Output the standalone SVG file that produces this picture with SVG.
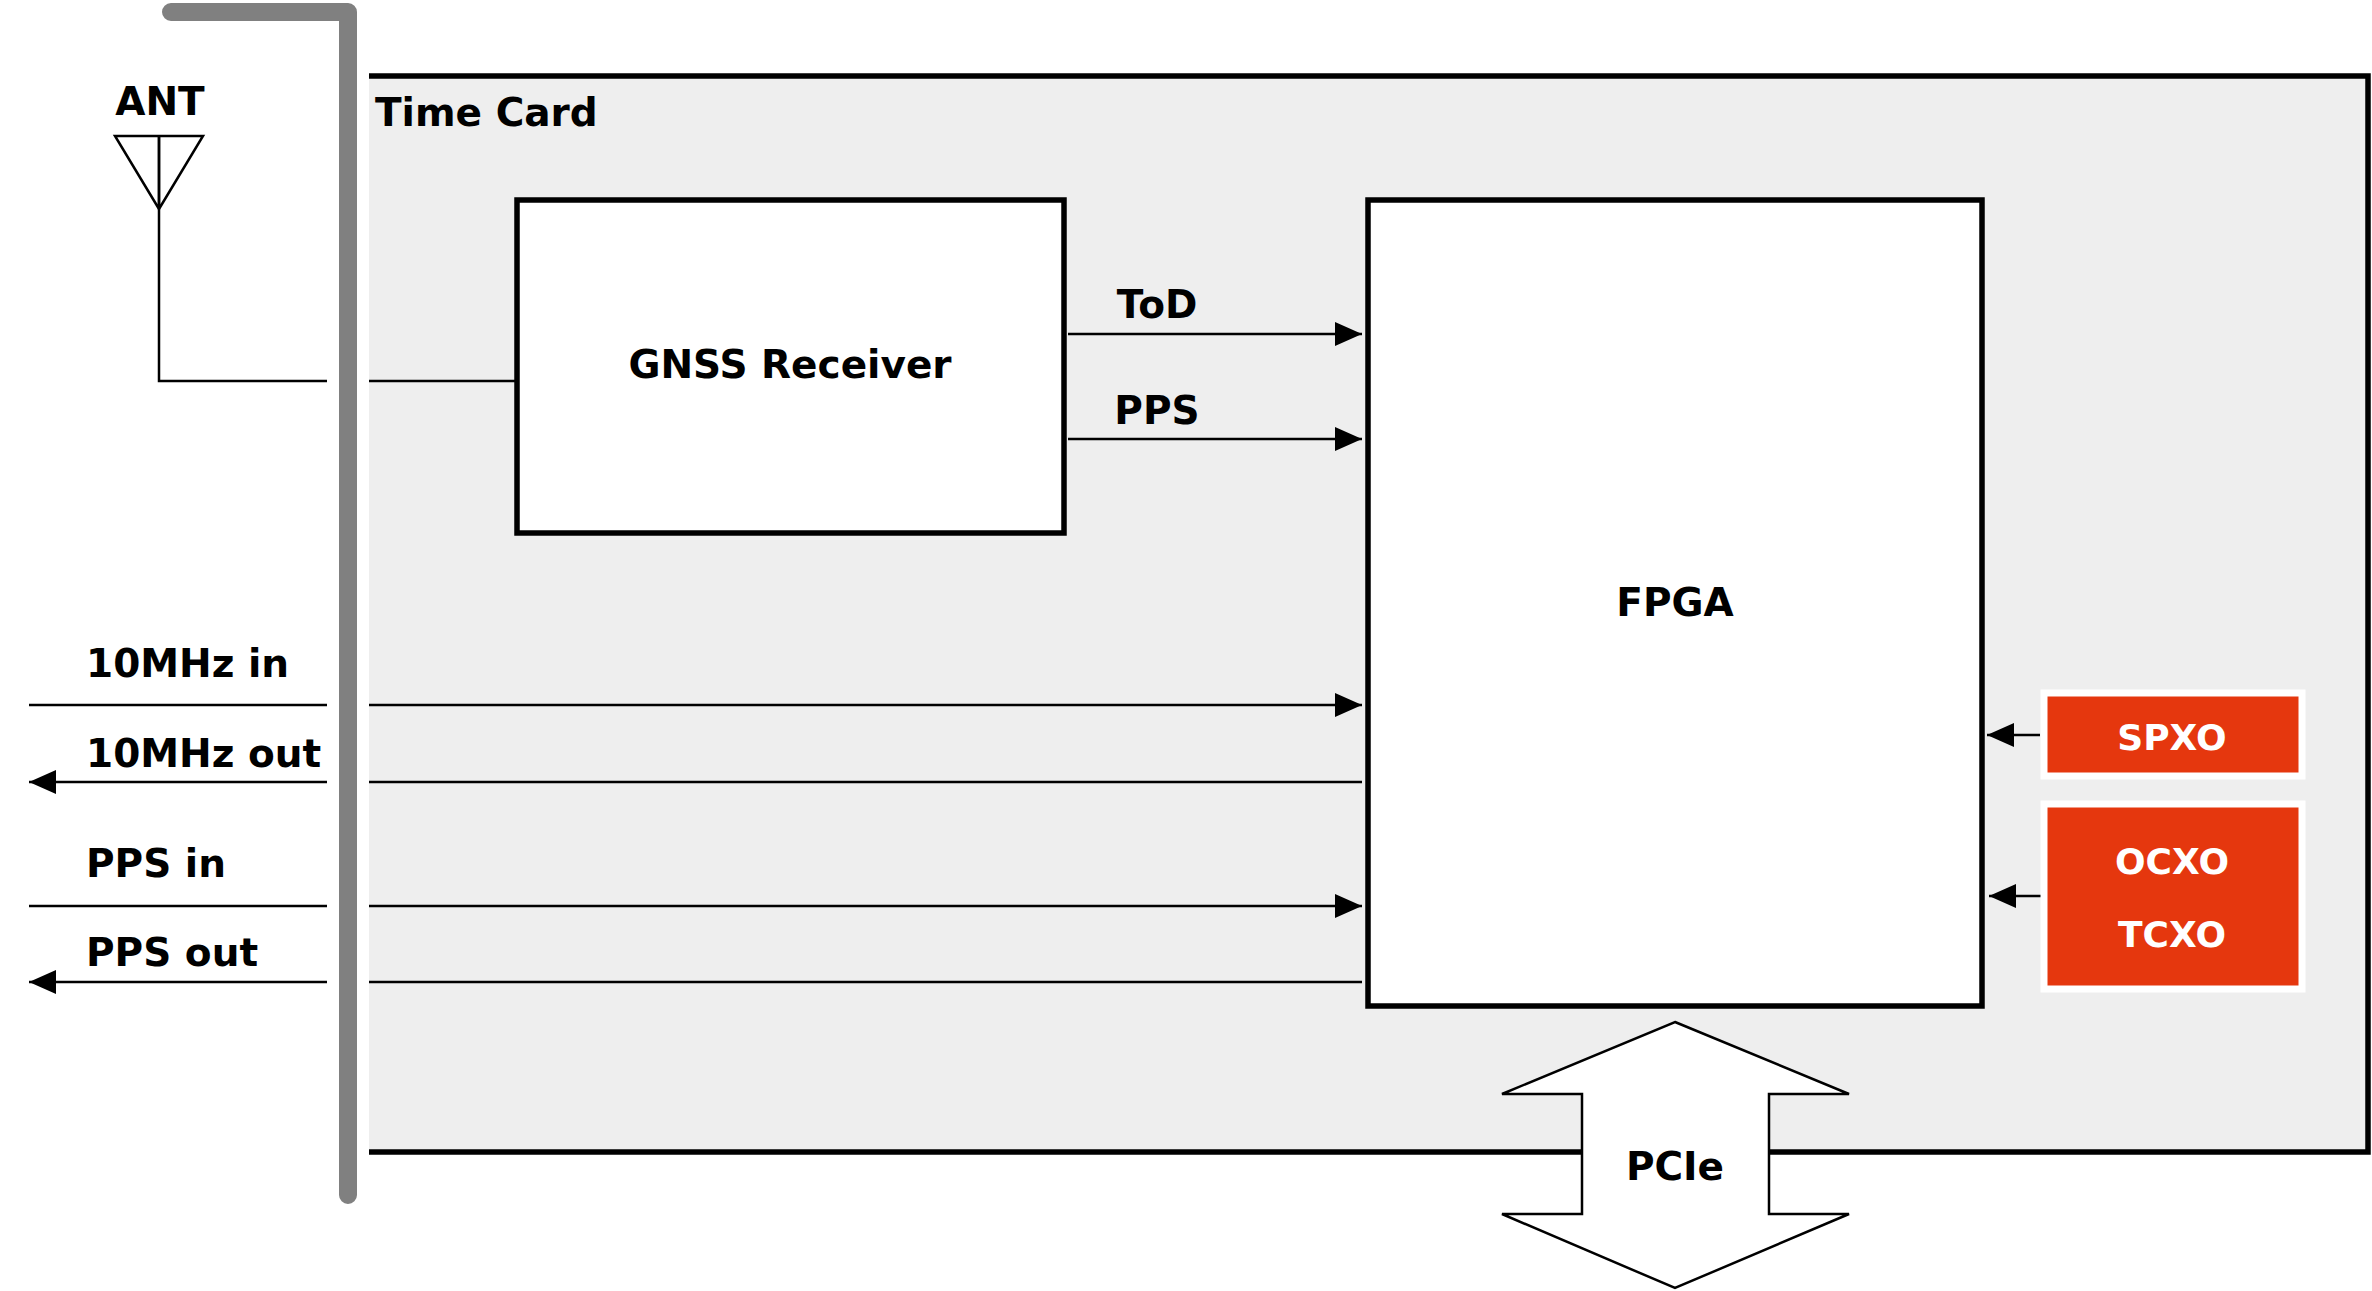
<svg xmlns="http://www.w3.org/2000/svg" width="2372" height="1291" viewBox="0 0 2372 1291">
<defs>
<style>
text{font-family:"DejaVu Sans","Liberation Sans",sans-serif;font-weight:bold;font-size:39px;fill:#000}
.c{text-anchor:middle}
.w{fill:#fff;font-size:36px}
.ln{stroke:#000;stroke-width:2.5;fill:none}
.box{fill:#fff;stroke:#000;stroke-width:5.5}
.osc{fill:#e5370e;stroke:#fff;stroke-width:7}
</style>
<marker id="ah" viewBox="0 0 10 10" refX="10" refY="5" markerWidth="10" markerHeight="10" markerUnits="userSpaceOnUse" orient="auto"><path d="M0,0L10,5L0,10z" fill="#000"/></marker>
<marker id="a" viewBox="0 0 10 10" refX="10" refY="5" markerWidth="27" markerHeight="24" markerUnits="userSpaceOnUse" orient="auto" preserveAspectRatio="none"><path d="M0,0L10,5L0,10z" fill="#000"/></marker>
</defs>
<g id="timecard"><rect x="348" y="76" width="2020" height="1076" fill="#eeeeee" stroke="#000" stroke-width="5.5"/><text x="375" y="126">Time Card</text></g>
<g id="connectors">
<path class="ln" d="M159,136V381H517"/>
<path class="ln" d="M1068,334H1362" marker-end="url(#a)"/>
<path class="ln" d="M1068,439H1362" marker-end="url(#a)"/>
<path class="ln" d="M29,705H1362" marker-end="url(#a)"/>
<path class="ln" d="M1362,782H29" marker-end="url(#a)"/>
<path class="ln" d="M29,906H1362" marker-end="url(#a)"/>
<path class="ln" d="M1362,982H29" marker-end="url(#a)"/>
<path class="ln" d="M2040,735H1987" marker-end="url(#a)"/>
<path class="ln" d="M2047,896H1989" marker-end="url(#a)"/>
</g>
<g id="bus"><path d="M171,12H348V1195" fill="none" stroke="#fff" stroke-width="42" stroke-linejoin="round"/><path d="M171,12H348V1195" fill="none" stroke="#808080" stroke-width="18" stroke-linecap="round" stroke-linejoin="round"/></g>
<g id="ant"><path class="ln" d="M115,136H203L159,209ZM159,136V209"/><text class="c" x="160" y="115">ANT</text></g>
<g id="gnss"><rect class="box" x="517" y="200" width="547" height="333"/><text class="c" x="790" y="378">GNSS Receiver</text></g>
<g id="fpga"><rect class="box" x="1368" y="200" width="614" height="806"/><text class="c" x="1675" y="616">FPGA</text></g>
<g id="labels"><text class="c" x="1157" y="318">ToD</text><text class="c" x="1157" y="424">PPS</text>
<text x="86" y="677">10MHz in</text><text x="86" y="767">10MHz out</text><text x="86" y="877">PPS in</text><text x="86" y="966">PPS out</text></g>
<g id="spxo"><rect class="osc" x="2044" y="693" width="258" height="83"/><text class="c w" x="2172" y="750">SPXO</text></g>
<g id="ocxo"><rect class="osc" x="2044" y="804" width="258" height="185"/><text class="c w" x="2172" y="874">OCXO</text><text class="c w" x="2172" y="947">TCXO</text></g>
<g id="pcie"><path d="M1675,1022L1849,1094H1769V1214H1849L1675,1288L1502,1214H1582V1094H1502Z" fill="#fff" stroke="#000" stroke-width="2.5"/><text class="c" x="1675" y="1180">PCIe</text></g>
</svg>
